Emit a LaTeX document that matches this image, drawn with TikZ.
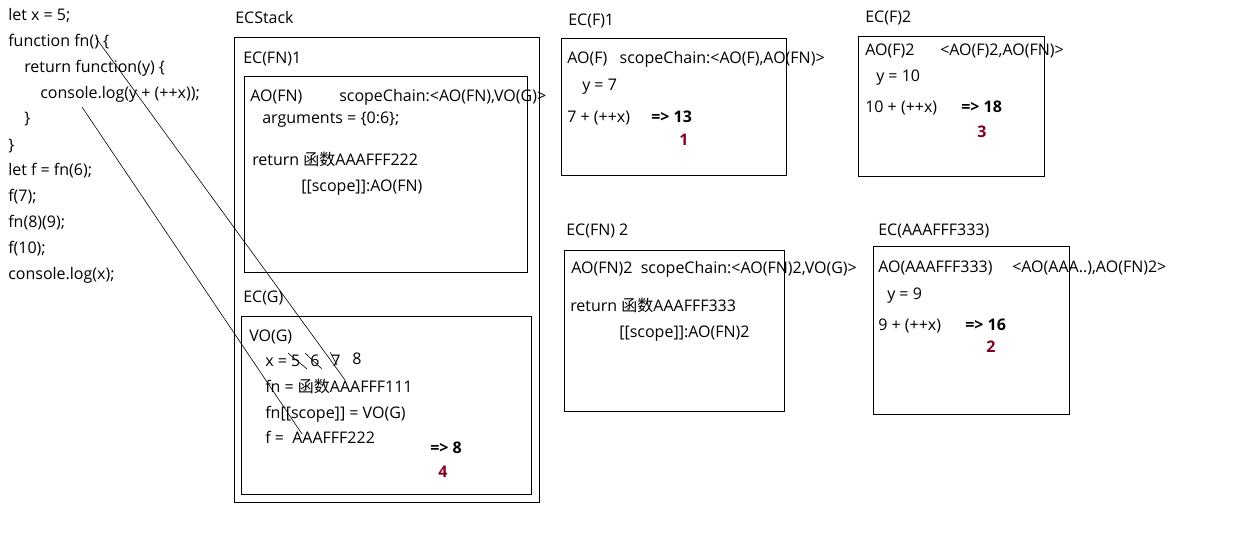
\documentclass[tikz,border=0pt]{standalone}
\usepackage{fontspec}
\setmainfont{Open Sans}
\newfontfamily\cjk{Noto Sans CJK SC}
\usetikzlibrary{positioning}
\definecolor{stepred}{RGB}{128,0,32}

\begin{document}
\begin{tikzpicture}[x=0.75pt, y=-0.75pt,
    font=\fontsize{12}{14}\selectfont,
    txt/.style={anchor=base west, inner sep=0pt},
    result/.style={txt, font=\fontsize{12}{14}\selectfont\bfseries},
    stepno/.style={txt, text=stepred, font=\fontsize{12}{14}\selectfont\bfseries},
    frame/.style={draw, line width=0.75pt},
    link/.style={draw, line width=0.45pt}]
  \useasboundingbox (0,0) rectangle (1248,534);

  % Source code on the left
  \node(code1)[txt] at (8,21) {let x = 5;};
  \node(code2)[txt] at (8,47) {function fn() \{};
  \node(code3)[txt] at (24,73) {return function(y) \{};
  \node(code4)[txt] at (40,99) {console.log(y + (++x));};
  \node(code5)[txt] at (24,124) {\}};
  \node(code6)[txt] at (8,151) {\}};
  \node(code7)[txt] at (8,176) {let f = fn(6);};
  \node(code8)[txt] at (8,202) {f(7);};
  \node(code9)[txt] at (8,228) {fn(8)(9);};
  \node(code10)[txt] at (8,254) {f(10);};
  \node(code11)[txt] at (8,280) {console.log(x);};

  % ECStack with EC(FN)1 and EC(G)
  \node(stacklabel)[txt] at (235,24) {ECStack};
  \draw[frame] (234,38) rectangle (539,502);
  \node(fn1label)[txt] at (243,64) {EC(FN)1};
  \draw[frame] (244,77) rectangle (527,273);
  \node(aofn)[txt] at (250,102) {AO(FN)};
  \node(aofnchain)[txt] at (339,102) {scopeChain:<AO(FN),VO(G)>};
  \node(aofnargs)[txt] at (262,124) {arguments = \{0:6\};};
  \node(aofnret)[txt] at (252,166) {return {\cjk 函数}AAAFFF222};
  \node(aofnscope)[txt] at (301,192) {[[scope]]:AO(FN)};

  \node(glabel)[txt] at (243,303) {EC(G)};
  \draw[frame] (241,317) rectangle (531,494);
  \node(vog)[txt] at (249,341) {VO(G)};
  \node(vox)[txt] at (265,366) {x = 5};
  \node(vox6)[txt] at (310,366) {6};
  \node(vox7)[txt] at (331,366) {7};
  \node(vox8)[txt] at (352,364) {8};
  \node(vofn)[txt] at (265,392) {fn = {\cjk 函数}AAAFFF111};
  \node(voscope)[txt] at (265,418) {fn[[scope]] = VO(G)};
  \node(vof)[txt] at (265,443) {f =\ \ AAAFFF222};
  \node(res4)[result] at (430,453) {=> 8};
  \node(no4)[stepno] at (438,477) {4};

  % crossed out values of x
  \draw[link] (288,353) -- (307,369);
  \draw[link] (305,353) -- (322,369);
  \draw[link] (330,352) -- (337,365);

  % EC(F)1
  \node(f1label)[txt] at (568,26) {EC(F)1};
  \draw[frame] (561,39) rectangle (786,176);
  \node(aof)[txt] at (567,64) {AO(F)\ \ \ scopeChain:<AO(F),AO(FN)>};
  \node(aofy)[txt] at (582,91) {y = 7};
  \node(aofsum)[txt] at (567,123) {7 + (++x)};
  \node(res1)[result] at (651,123) {=> 13};
  \node(no1)[stepno] at (679,146) {1};

  % EC(F)2
  \node(f2label)[txt] at (865,23) {EC(F)2};
  \draw[frame] (858,37) rectangle (1044,177);
  \node(aof2)[txt] at (865,56) {AO(F)2};
  \node(aof2chain)[txt] at (940,56) {<AO(F)2,AO(FN)>};
  \node(aof2y)[txt] at (876,82) {y = 10};
  \node(aof2sum)[txt] at (865,113) {10 + (++x)};
  \node(res3)[result] at (961,113) {=> 18};
  \node(no3)[stepno] at (977,138) {3};

  % EC(FN) 2
  \node(fn2label)[txt] at (566,236) {EC(FN) 2};
  \draw[frame] (564,251) rectangle (784,411);
  \node(aofn2)[txt] at (571,274) {AO(FN)2\ \ scopeChain:<AO(FN)2,VO(G)>};
  \node(aofn2ret)[txt] at (570,311) {return {\cjk 函数}AAAFFF333};
  \node(aofn2scope)[txt] at (619,337) {[[scope]]:AO(FN)2};

  % EC(AAAFFF333)
  \node(anonlabel)[txt] at (878,236) {EC(AAAFFF333)};
  \draw[frame] (873,247) rectangle (1069,414);
  \node(aoanon)[txt] at (878,273) {AO(AAAFFF333)};
  \node(aoanonchain)[txt] at (1012,273) {<AO(AAA..),AO(FN)2>};
  \node(aoanony)[txt] at (887,300) {y = 9};
  \node(aoanonsum)[txt] at (878,330) {9 + (++x)};
  \node(res2)[result] at (965,330) {=> 16};
  \node(no2)[stepno] at (986,353) {2};

  % Links from the code to VO(G)
  \coordinate (fnhead) at (96,38);
  \coordinate (fnslot) at (345,380);
  \coordinate (logcall) at (82,107);
  \coordinate (fslot) at (302,434);
  \draw[link] (fnhead) -- (fnslot);
  \draw[link] (logcall) -- (fslot);
\end{tikzpicture}
\end{document}
